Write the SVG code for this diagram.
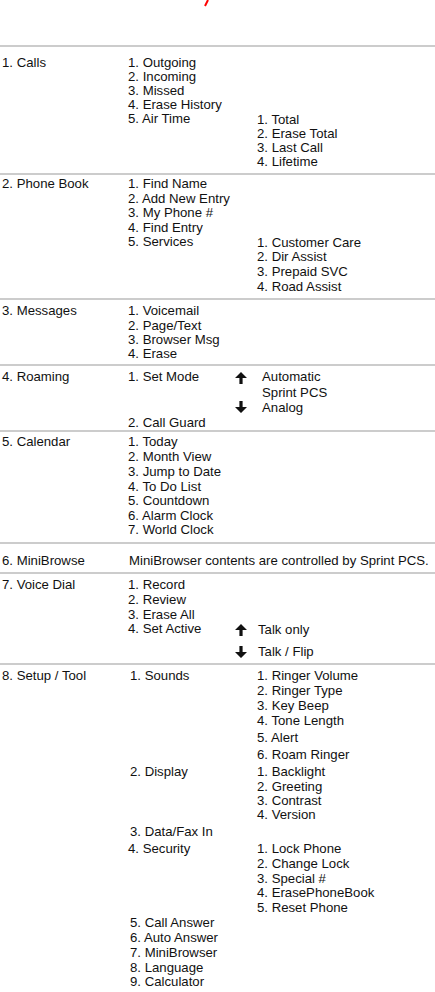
<svg xmlns="http://www.w3.org/2000/svg" width="435" height="992" viewBox="0 0 435 992">
<style>
text{font-family:"Liberation Sans",Arial,sans-serif;font-size:13.2px;fill:#111}
.sep{stroke:#cccccc;stroke-width:2}
.arr{fill:#111}
</style>
<defs>
<polygon id="up" points="0,0 6,6 1.6,6 1.6,12 -1.6,12 -1.6,6 -6,6"/>
<polygon id="down" points="0,12 6,6 1.6,6 1.6,0 -1.6,0 -1.6,6 -6,6"/>
</defs>
<rect width="435" height="992" fill="#fff"/>
<line x1="208" y1="0" x2="205" y2="6" stroke="#ff0000" stroke-width="2"/>
<g id="separators">
<line class="sep" x1="0" y1="46" x2="435" y2="46"/>
<line class="sep" x1="0" y1="174" x2="435" y2="174"/>
<line class="sep" x1="0" y1="299" x2="435" y2="299"/>
<line class="sep" x1="0" y1="365" x2="435" y2="365"/>
<line class="sep" x1="0" y1="431" x2="435" y2="431"/>
<line class="sep" x1="0" y1="543" x2="435" y2="543"/>
<line class="sep" x1="0" y1="573" x2="435" y2="573"/>
<line class="sep" x1="0" y1="664" x2="435" y2="664"/>
</g>
<g id="calls">
<text x="2" y="67">1. Calls</text>
<text x="128" y="67">1. Outgoing</text>
<text x="128" y="81">2. Incoming</text>
<text x="128" y="95">3. Missed</text>
<text x="128" y="109">4. Erase History</text>
<text x="128" y="123">5. Air Time</text>
<text x="257" y="124">1. Total</text>
<text x="257" y="138">2. Erase Total</text>
<text x="257" y="152">3. Last Call</text>
<text x="257" y="166">4. Lifetime</text>
</g>
<g id="phonebook">
<text x="2" y="188">2. Phone Book</text>
<text x="128" y="188">1. Find Name</text>
<text x="128" y="203">2. Add New Entry</text>
<text x="128" y="217">3. My Phone #</text>
<text x="128" y="232">4. Find Entry</text>
<text x="128" y="246">5. Services</text>
<text x="257" y="247">1. Customer Care</text>
<text x="257" y="261">2. Dir Assist</text>
<text x="257" y="276">3. Prepaid SVC</text>
<text x="257" y="291">4. Road Assist</text>
</g>
<g id="messages">
<text x="2" y="315">3. Messages</text>
<text x="128" y="315">1. Voicemail</text>
<text x="128" y="330">2. Page/Text</text>
<text x="128" y="344">3. Browser Msg</text>
<text x="128" y="358">4. Erase</text>
</g>
<g id="roaming">
<text x="2" y="381">4. Roaming</text>
<text x="128" y="381">1. Set Mode</text>
<use href="#up" class="arr" x="241" y="372"/>
<text x="262" y="381">Automatic</text>
<text x="262" y="397">Sprint PCS</text>
<use href="#down" class="arr" x="241" y="401"/>
<text x="262" y="412">Analog</text>
<text x="128" y="427">2. Call Guard</text>
</g>
<g id="calendar">
<text x="2" y="446">5. Calendar</text>
<text x="128" y="446">1. Today</text>
<text x="128" y="461">2. Month View</text>
<text x="128" y="476">3. Jump to Date</text>
<text x="128" y="491">4. To Do List</text>
<text x="128" y="505">5. Countdown</text>
<text x="128" y="520">6. Alarm Clock</text>
<text x="128" y="534">7. World Clock</text>
</g>
<g id="minibrowse">
<text x="2" y="565">6. MiniBrowse</text>
<text x="129" y="565">MiniBrowser contents are controlled by Sprint PCS.</text>
</g>
<g id="voicedial">
<text x="2" y="589">7. Voice Dial</text>
<text x="128" y="589">1. Record</text>
<text x="128" y="604">2. Review</text>
<text x="128" y="619">3. Erase All</text>
<text x="128" y="633">4. Set Active</text>
<use href="#up" class="arr" x="241" y="624"/>
<text x="258" y="634">Talk only</text>
<use href="#down" class="arr" x="241" y="646"/>
<text x="258" y="656">Talk / Flip</text>
</g>
<g id="setup">
<text x="2" y="680">8. Setup / Tool</text>
<text x="130" y="680">1. Sounds</text>
<text x="257" y="680">1. Ringer Volume</text>
<text x="257" y="695">2. Ringer Type</text>
<text x="257" y="710">3. Key Beep</text>
<text x="257" y="725">4. Tone Length</text>
<text x="257" y="742">5. Alert</text>
<text x="257" y="759">6. Roam Ringer</text>
<text x="130" y="776">2. Display</text>
<text x="257" y="776">1. Backlight</text>
<text x="257" y="791">2. Greeting</text>
<text x="257" y="805">3. Contrast</text>
<text x="257" y="819">4. Version</text>
<text x="130" y="836">3. Data/Fax In</text>
<text x="128" y="853">4. Security</text>
<text x="257" y="853">1. Lock Phone</text>
<text x="257" y="868">2. Change Lock</text>
<text x="257" y="883">3. Special #</text>
<text x="257" y="897">4. ErasePhoneBook</text>
<text x="257" y="912">5. Reset Phone</text>
<text x="130" y="927">5. Call Answer</text>
<text x="130" y="942">6. Auto Answer</text>
<text x="130" y="957">7. MiniBrowser</text>
<text x="130" y="972">8. Language</text>
<text x="130" y="986">9. Calculator</text>
</g>
</svg>
